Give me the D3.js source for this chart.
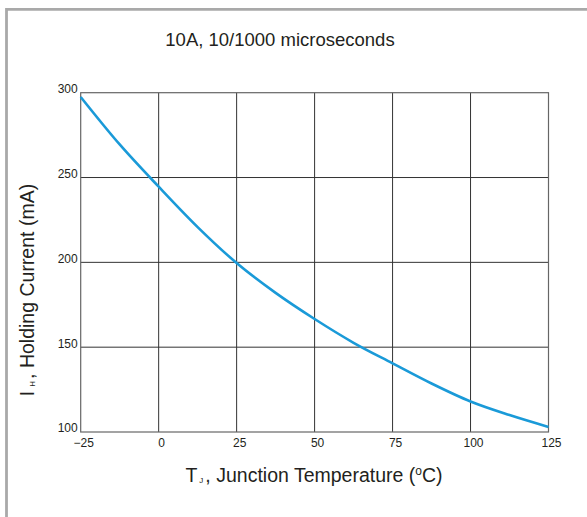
<!DOCTYPE html>
<html>
<head>
<meta charset="utf-8">
<script src="https://cdn.jsdelivr.net/npm/d3@7/dist/d3.min.js"></script>
<style>
  html, body { margin: 0; padding: 0; background: #fff; }
  svg { display: block; }
  text { font-family: "Liberation Sans", Arial, sans-serif; fill: #231f20; }
</style>
</head>
<body>
<svg id="chart" width="587" height="517"></svg>
<script>
// Data
const temperatures = [-25, -12.5, 0, 12.5, 25, 37.5, 50, 62.5, 75, 87.5, 100, 112.5, 125];
const holdingCurrent = [297.5, 269.5, 244.6, 220.8, 199.6, 182, 166.6, 152.6, 140.5, 128.6, 118, 110, 103];
const xTicks = [-25, 0, 25, 50, 75, 100, 125];
const yTicks = [100, 150, 200, 250, 300];
const titleText = "10A, 10/1000 microseconds";

const svg = d3.select("#chart");
const W = 587, H = 517;

// frame
svg.append("path")
  .attr("d", `M6.5,${H + 5} L6.5,9.3 L${W + 5},9.3`)
  .attr("fill", "none")
  .attr("stroke", "#a9a9a9")
  .attr("stroke-width", 2.8);

const plot = { left: 80.7, right: 548.5, top: 92.7, bottom: 432 };

const x = d3.scaleLinear().domain([-25, 125]).range([plot.left, plot.right]);
const y = d3.scaleLinear().domain([100, 300]).range([plot.bottom, plot.top]);

// grid
const g = svg.append("g");
g.selectAll("line.vg").data(xTicks.slice(1, -1)).join("line")
  .attr("x1", d => x(d)).attr("x2", d => x(d))
  .attr("y1", plot.top).attr("y2", plot.bottom)
  .attr("stroke", "#333").attr("stroke-width", 1);
g.selectAll("line.hg").data(yTicks.slice(1, -1)).join("line")
  .attr("x1", plot.left).attr("x2", plot.right)
  .attr("y1", d => y(d)).attr("y2", d => y(d))
  .attr("stroke", "#333").attr("stroke-width", 1);

// border
g.append("rect")
  .attr("x", plot.left).attr("y", plot.top)
  .attr("width", plot.right - plot.left).attr("height", plot.bottom - plot.top)
  .attr("fill", "none").attr("stroke", "#666").attr("stroke-width", 1.2);

// curve
const pts = temperatures.map((t, i) => [t, holdingCurrent[i]]);
svg.append("path")
  .datum(pts)
  .attr("fill", "none")
  .attr("stroke", "#1a9ad8")
  .attr("stroke-width", 2.6)
  .attr("d", d3.line().x(d => x(d[0])).y(d => y(d[1])).curve(d3.curveMonotoneX));

// axes (labels only)
const xAxis = svg.append("g")
  .attr("transform", `translate(2.5,${plot.bottom})`)
  .call(d3.axisBottom(x).tickValues(xTicks).tickSize(0).tickPadding(6).tickFormat(d3.format("d")));
xAxis.select(".domain").remove();
xAxis.selectAll("text").attr("font-size", 12).attr("fill", "#231f20")
  .style("font-family", '"Liberation Sans", Arial, sans-serif');

const yAxis = svg.append("g")
  .attr("transform", `translate(${plot.left - 3},-4)`)
  .call(d3.axisLeft(y).tickValues(yTicks).tickSize(0).tickPadding(0).tickFormat(d3.format("d")));
yAxis.select(".domain").remove();
yAxis.selectAll("text").attr("font-size", 12).attr("fill", "#231f20")
  .style("font-family", '"Liberation Sans", Arial, sans-serif');

// title
svg.append("text")
  .attr("x", 280).attr("y", 46)
  .attr("text-anchor", "middle")
  .attr("font-size", 18.5)
  .text(titleText);

// x axis title
const xt = svg.append("text")
  .attr("x", 314).attr("y", 482)
  .attr("text-anchor", "middle")
  .attr("font-size", 19.5);
xt.append("tspan").text("T");
xt.append("tspan").attr("font-size", 8).attr("dx", 2).attr("dy", 1).text("J");
xt.append("tspan").attr("dx", 2).attr("dy", -1).text(", Junction Temperature (");
xt.append("tspan").attr("font-size", 12).attr("dy", -7).text("o");
xt.append("tspan").attr("dy", 7).text("C)");

// y axis title
const yt = svg.append("text")
  .attr("transform", "translate(34,290) rotate(-90)")
  .attr("text-anchor", "middle")
  .attr("font-size", 19.5);
yt.append("tspan").text("I");
yt.append("tspan").attr("font-size", 8).attr("dx", 4).attr("dy", 1).text("H");
yt.append("tspan").attr("dx", 2).attr("dy", -1).text(", Holding Current (mA)");
</script>
</body>
</html>
